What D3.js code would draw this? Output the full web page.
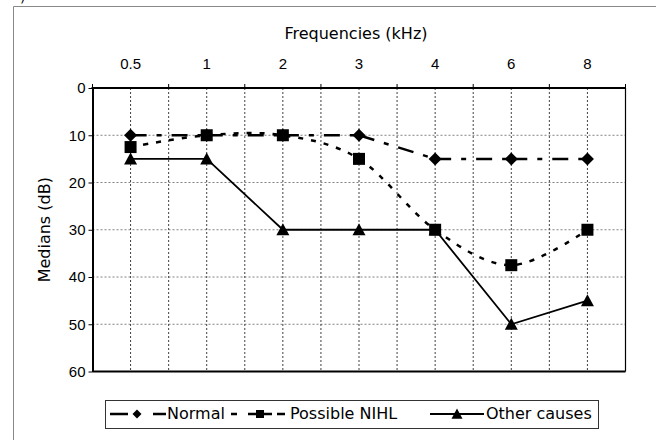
<!DOCTYPE html>
<html><head><meta charset="utf-8">
<script src="https://cdn.jsdelivr.net/npm/d3@7"></script>
<style>html,body{margin:0;padding:0;background:#fff;}svg{display:block;}</style>
</head><body>
<svg id="c" width="656" height="440"></svg>
<script>
const freqs = ["0.5","1","2","3","4","6","8"];
const normal = [10,10,10,10,15,15,15];
const nihl = [12.5,10,10,15,30,37.5,30];
const other = [15,15,30,30,30,50,45];
const yTicks = [0,10,20,30,40,50,60];
const seriesNames = ["Normal","Possible NIHL","Other causes"];

const svg = d3.select("#c");
const X0 = 92.5, X1 = 625.5, Y0 = 88, Y1 = 371.5;
const x = d3.scaleBand().domain(freqs).range([X0, X1]).padding(0);
const y = d3.scaleLinear().domain([0, 60]).range([Y0, Y1]);
const cx = d => x(d) + x.bandwidth()/2;

// outer frame
svg.append("path").attr("d","M13.5,440 L13.5,6.5 L656,6.5").attr("fill","none").attr("stroke","#888").attr("stroke-width",1);
svg.append("text").attr("x",20).attr("y",2).attr("font-family","DejaVu Sans").attr("font-size",14).text(")");

// gridlines
const g = svg.append("g");
g.selectAll(".hg").data(yTicks.filter(v => v > 0 && v < 60)).join("line")
  .attr("x1", X0).attr("x2", X1).attr("y1", d => y(d)).attr("y2", d => y(d))
  .attr("stroke", "#808080").attr("stroke-width", 1).attr("stroke-dasharray", "2,2");
const boundaries = freqs.slice(1).map(f => x(f));
const vlines = freqs.map(cx).concat(boundaries);
g.selectAll(".vg").data(vlines).join("line")
  .attr("x1", d => d).attr("x2", d => d).attr("y1", Y0).attr("y2", Y1)
  .attr("stroke", "#404040").attr("stroke-width", 1).attr("stroke-dasharray", "2,2");

// plot border
svg.append("line").attr("x1",X1).attr("x2",X1).attr("y1",Y0).attr("y2",Y1).attr("stroke","#000").attr("stroke-width",1.2);
svg.append("line").attr("x1",X0).attr("x2",X1).attr("y1",Y1).attr("y2",Y1).attr("stroke","#000").attr("stroke-width",2);

// top axis (labels at centers, ticks at boundaries)
const xa = svg.append("g").attr("transform", `translate(0,${Y0})`)
  .call(d3.axisTop(x).tickSize(0).tickPadding(19.5).tickSizeOuter(0));
xa.select(".domain").remove();
xa.selectAll("text").attr("font-family","Liberation Sans, Arial").attr("font-size",15).attr("fill","#000");
svg.selectAll(".xt").data([X0].concat(boundaries).concat([X1])).join("line")
  .attr("x1", d => d).attr("x2", d => d).attr("y1", Y0 - 4).attr("y2", Y0)
  .attr("stroke", "#000").attr("stroke-width", 1);
svg.append("line").attr("x1",X0-1).attr("x2",X1+0.5).attr("y1",Y0).attr("y2",Y0).attr("stroke","#000").attr("stroke-width",2);

// left axis
const ya = svg.append("g").attr("transform", `translate(${X0},0)`)
  .call(d3.axisLeft(y).tickValues(yTicks).tickSize(4).tickPadding(3).tickSizeOuter(0));
ya.select(".domain").attr("stroke-width",2);
ya.selectAll("text").attr("font-family","Liberation Sans, Arial").attr("font-size",15).attr("fill","#000");

// titles
svg.append("text").attr("x",356).attr("y",39).attr("text-anchor","middle")
  .attr("font-family","DejaVu Sans, Verdana").attr("font-size",16).text("Frequencies (kHz)");
svg.append("text").attr("transform",`translate(50,${(Y0+Y1)/2}) rotate(-90)`).attr("text-anchor","middle")
  .attr("font-family","DejaVu Sans, Verdana").attr("font-size",16).text("Medians (dB)");

// markers
function diamondPath(s){ return `M0,${-s}L${s},0L0,${s}L${-s},0Z`; }
function squarePath(s){ return `M${-s},${-s}H${s}V${s}H${-s}Z`; }
function trianglePath(s){ return `M0,${-s}L${s},${s*0.85}L${-s},${s*0.85}Z`; }

const smoothGen = d3.line().x((d,i) => cx(freqs[i])).y(d => y(d)).curve(d3.curveCardinal.tension(0));
const lineGen = d3.line().x((d,i) => cx(freqs[i])).y(d => y(d));

// Normal: dash-dot, pattern restarts on each segment
const segs = d3.pairs(normal.map((v,i) => [cx(freqs[i]), y(v)]));
svg.append("g").selectAll("line").data(segs).join("line")
  .attr("x1", d => d[0][0]).attr("y1", d => d[0][1]).attr("x2", d => d[1][0]).attr("y2", d => d[1][1])
  .attr("stroke","#000").attr("stroke-width",2.5).attr("stroke-dasharray","16,10,5,10");
// Possible NIHL: smoothed, short dashes
svg.append("path").attr("d", smoothGen(nihl)).attr("fill","none").attr("stroke","#000")
  .attr("stroke-width", 2.5).attr("stroke-dasharray", "5,8");
// Other causes: solid
svg.append("path").attr("d", lineGen(other)).attr("fill","none").attr("stroke","#000")
  .attr("stroke-width", 1.8);

const series = [
  {vals: normal, marker: diamondPath, ms: 6.5, lms: 4.5, w: 2.5},
  {vals: nihl, marker: squarePath, ms: 6, lms: 4, w: 2.5},
  {vals: other, marker: trianglePath, ms: 6.5, lms: 5.5, w: 1.8}
];
series.forEach(s => {
  svg.append("g").selectAll("path").data(s.vals).join("path")
    .attr("transform",(d,i) => `translate(${cx(freqs[i])},${y(d)})`)
    .attr("d", s.marker(s.ms)).attr("fill","#000");
});

// legend
svg.append("rect").attr("x",105.5).attr("y",400.5).attr("width",493).attr("height",28)
  .attr("fill","#fff").attr("stroke","#333").attr("stroke-width",1);
const leg = [
  {x1:110, x2:166, mx:137, tx:167, dash:"18,25,13"},
  {x1:231, x2:285, mx:260, tx:290, dash:"6,11,24,5,8"},
  {x1:430, x2:484, mx:457, tx:486, dash:null}
];
leg.forEach((l,i) => {
  const s = series[i];
  svg.append("line").attr("x1",l.x1).attr("x2",l.x2).attr("y1",414).attr("y2",414)
    .attr("stroke","#000").attr("stroke-width", s.w).attr("stroke-dasharray", l.dash);
  svg.append("path").attr("transform",`translate(${l.mx},414)`).attr("d", s.marker(s.lms)).attr("fill","#000");
  svg.append("text").attr("x",l.tx).attr("y",419).attr("font-family","DejaVu Sans, Verdana").attr("font-size",16).text(seriesNames[i]);
});
</script>
</body></html>
